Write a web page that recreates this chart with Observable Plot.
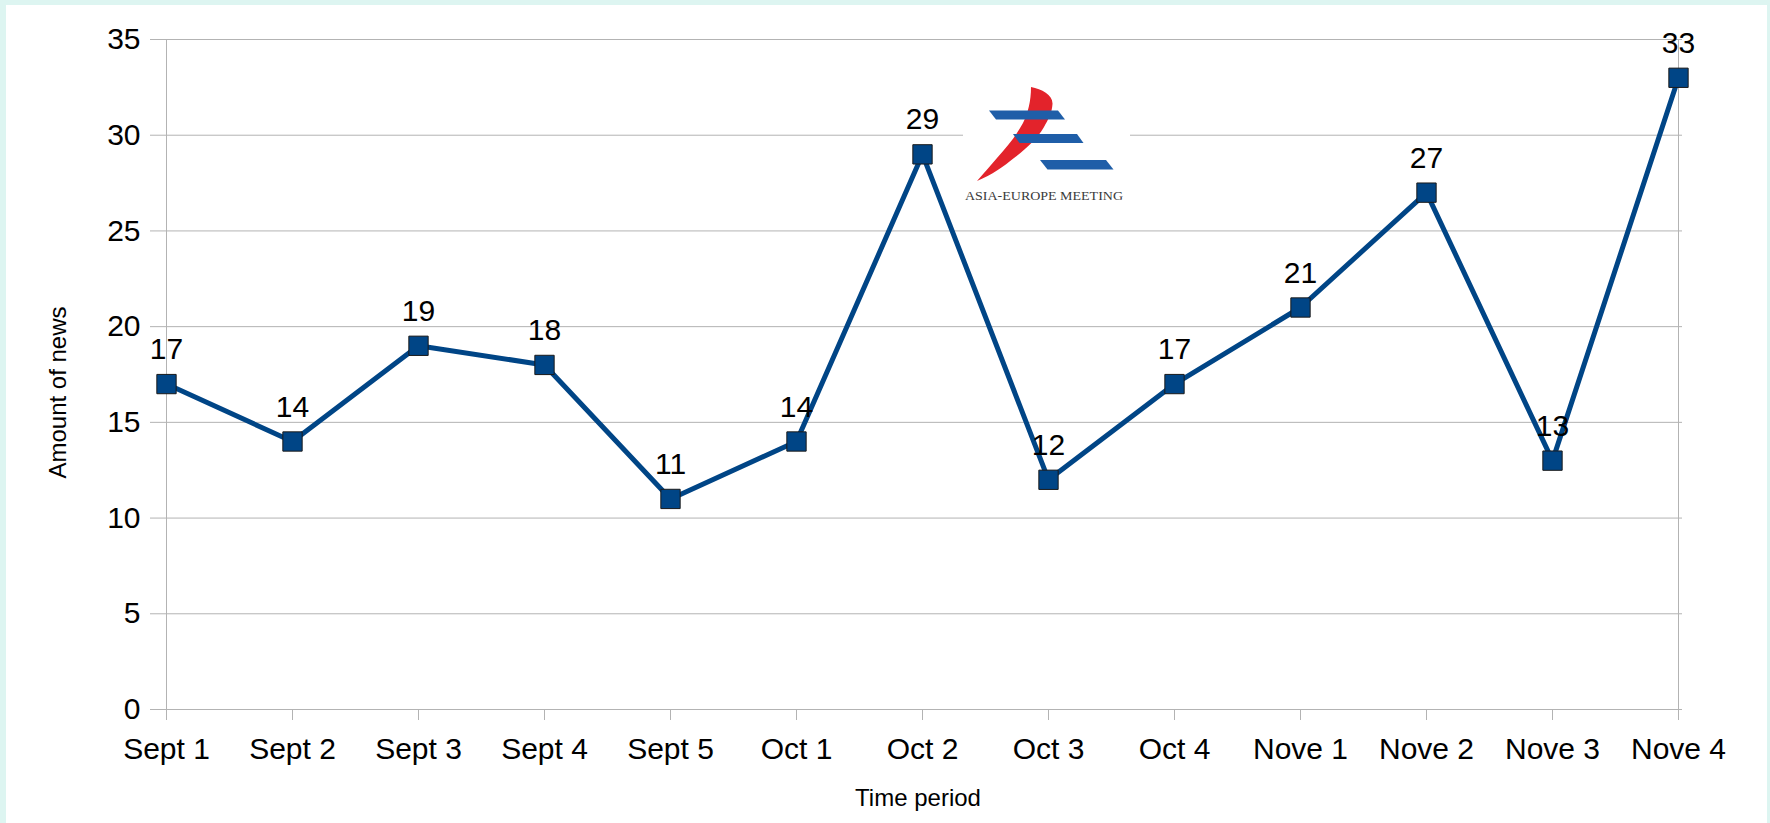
<!DOCTYPE html>
<html>
<head>
<meta charset="utf-8">
<script src="https://cdn.jsdelivr.net/npm/d3@7"></script>
<script src="https://cdn.jsdelivr.net/npm/@observablehq/plot@0.6"></script>
<style>
  html, body { margin: 0; padding: 0; background: #ddf5f1; }
  #wrap { position: relative; width: 1770px; height: 823px; overflow: hidden; }
  #paper { position: absolute; left: 6px; top: 5px; width: 1761px; height: 818px; background: #ffffff; }
  #chart { position: absolute; left: 0; top: 0; }
  #chart svg { max-width: none !important; }
</style>
</head>
<body>
<div id="wrap"><div id="paper"></div><div id="chart"></div></div>
<script>
const categories = ["Sept 1", "Sept 2", "Sept 3", "Sept 4", "Sept 5", "Oct 1", "Oct 2", "Oct 3", "Oct 4", "Nove 1", "Nove 2", "Nove 3", "Nove 4"];
const values = [17, 14, 19, 18, 11, 14, 29, 12, 17, 21, 27, 13, 33];
const yTicks = [0, 5, 10, 15, 20, 25, 30, 35];
const xTitle = "Time period";
const yTitle = "Amount of news";
const logoText = "ASIA-EUROPE MEETING";

const data = categories.map((c, i) => ({period: c, news: values[i]}));

const grid = "#b3b3b3";
const blue = "#004586";

const svg = Plot.plot({
  width: 1770,
  height: 823,
  marginLeft: 161,
  marginRight: 88,
  marginTop: 39,
  marginBottom: 114,
  style: {fontFamily: "'Liberation Sans', Arial, sans-serif", background: "transparent", color: "black"},
  x: {type: "point", domain: categories, padding: 0, range: [161, 1682]},
  y: {domain: [0, 35], range: [709, 39]},
  marks: [
    Plot.gridY(yTicks, {stroke: grid, strokeOpacity: 1, strokeWidth: 1}),
    Plot.ruleX([categories[0], categories[categories.length - 1]], {y1: 0, y2: 35, stroke: grid, strokeWidth: 1}),
    Plot.axisY({ticks: yTicks, tickSize: 11, tickPadding: 10, stroke: grid, strokeOpacity: 1, fill: "black", fontSize: 30, label: null}),
    Plot.axisX({tickSize: 11, tickPadding: 17, stroke: grid, strokeOpacity: 1, fill: "black", fontSize: 30, label: null}),
    Plot.line(data, {x: "period", y: "news", stroke: blue, strokeWidth: 5, strokeLinejoin: "miter"}),
    Plot.dot(data, {x: "period", y: "news", symbol: "square", r: 10.9, fill: blue, stroke: "#1a1a1a", strokeWidth: 1}),
    Plot.text(data, {x: "period", y: "news", text: d => String(d.news), dy: -25, lineAnchor: "bottom", fontSize: 30, fill: "black"}),
    Plot.text([xTitle], {frameAnchor: "bottom", textAnchor: "middle", dx: -4, dy: 96, lineAnchor: "bottom", fontSize: 24, fill: "black"}),
    Plot.text([yTitle], {frameAnchor: "left", textAnchor: "middle", dx: -96, dy: 18, rotate: -90, lineAnchor: "bottom", fontSize: 24, fill: "black"})
  ]
});

// Decorative ASEM logo overlay
const g = d3.select(svg).append("g").attr("class", "logo");
g.append("rect").attr("x", 963).attr("y", 76).attr("width", 167).attr("height", 136).attr("fill", "#ffffff");
g.append("path")
  .attr("d", "M1031,87 C1042,89 1053,95 1052.5,104 C1052,113 1048,120 1044,127 C1037,139 1026,149 1014,158 C1004,166 992,175 977,181 C985,172 991,165 997,158 C1007,147 1016,136 1023,123 C1028,113 1031,101 1031,87 Z")
  .attr("fill", "#e3232b");
const stripe = (x1, x2, y, h, s) => `M${x1},${y} L${x2},${y} L${x2 + s},${y + h} L${x1 + s},${y + h} Z`;
g.append("path").attr("d", stripe(989, 1058, 110.5, 9, 7)).attr("fill", "#1f5ea8");
g.append("path").attr("d", stripe(1013, 1077, 134, 9, 6.5)).attr("fill", "#1f5ea8");
g.append("path").attr("d", stripe(1040, 1106, 160, 9.5, 7.5)).attr("fill", "#1f5ea8");
g.append("text").attr("x", 1044).attr("y", 200).attr("text-anchor", "middle")
  .attr("font-family", "'Liberation Serif', 'DejaVu Serif', serif").attr("font-size", 12)
  .attr("textLength", 158).attr("lengthAdjust", "spacingAndGlyphs")
  .attr("fill", "#3a3a3a").text(logoText);

document.getElementById("chart").appendChild(svg);
</script>
</body>
</html>
